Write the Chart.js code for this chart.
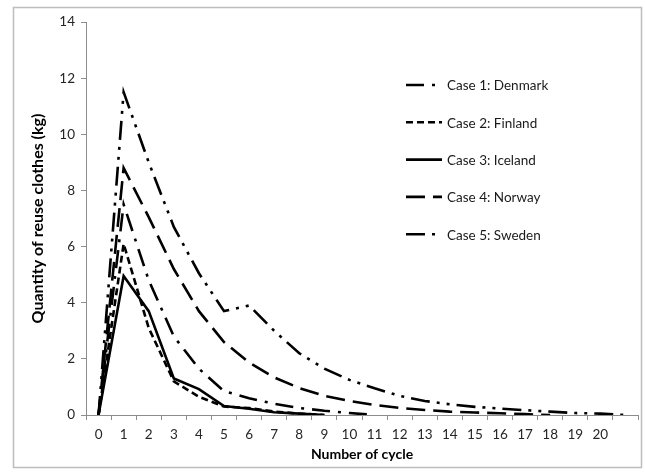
<!DOCTYPE html>
<html>
<head>
<meta charset="utf-8">
<script src="https://cdn.jsdelivr.net/npm/chart.js@4.4.0/dist/chart.umd.min.js"></script>
<style>
  html, body { margin: 0; padding: 0; background: #fff; }
</style>
</head>
<body>
<canvas id="cycleChart" width="645" height="473"></canvas>
<script>
// categories (last slot has no label)
const cycles = ['0','1','2','3','4','5','6','7','8','9','10','11','12','13','14','15','16','17','18','19','20',''];
const yTicks = [0, 2, 4, 6, 8, 10, 12, 14];

// quantity of reuse clothes (kg) per cycle
const denmark = [0, 7.5, 4.8, 2.8, 1.65, 0.85, 0.6, 0.4, 0.25, 0.15, 0.07, 0];
const finland = [0, 6.1, 3.1, 1.2, 0.65, 0.3, 0.25, 0.12, 0.05, 0];
const iceland = [0, 4.95, 3.7, 1.3, 0.92, 0.32, 0.22, 0.1, 0.05, 0];
const norway  = [0, 8.8, 7.05, 5.2, 3.7, 2.6, 1.87, 1.34, 0.96, 0.68, 0.5, 0.36, 0.25, 0.18, 0.12, 0.09, 0.06, 0.03, 0];
const sweden  = [0, 11.5, 9.0, 6.7, 5.05, 3.7, 3.9, 3.0, 2.2, 1.65, 1.25, 0.95, 0.68, 0.5, 0.38, 0.29, 0.23, 0.17, 0.12, 0.07, 0.05, 0];

const FONT = 'Lato, "Liberation Sans", sans-serif';

function caseLine(label, data, dash) {
  return {
    label: label,
    data: data,
    borderColor: '#000',
    backgroundColor: '#000',
    borderWidth: 2.6,
    borderDash: dash,
    borderCapStyle: 'butt',
    tension: 0,
    pointRadius: 0,
    fill: false
  };
}

// white page + light frame round the whole chart
const framePlugin = {
  id: 'frame',
  beforeDraw(chart) {
    const ctx = chart.ctx;
    ctx.save();
    ctx.fillStyle = '#fff';
    ctx.fillRect(0, 0, chart.width, chart.height);
    ctx.strokeStyle = '#bdbdbd';
    ctx.lineWidth = 1.5;
    ctx.strokeRect(13.5, 7.5, 628, 460);
    ctx.restore();
  }
};

// legend drawn inside the plot, on the right
const insideLegend = {
  id: 'insideLegend',
  afterDatasetsDraw(chart) {
    const ctx = chart.ctx;
    ctx.save();
    ctx.font = '13.5px ' + FONT;
    ctx.textBaseline = 'middle';
    chart.data.datasets.forEach((ds, i) => {
      const y = 85 + i * 37.3;
      ctx.beginPath();
      ctx.setLineDash(ds.borderDash || []);
      ctx.lineWidth = ds.borderWidth;
      ctx.strokeStyle = ds.borderColor;
      ctx.moveTo(406, y);
      ctx.lineTo(442, y);
      ctx.stroke();
      ctx.setLineDash([]);
      ctx.fillStyle = '#1a1a1a';
      ctx.fillText(ds.label, 447, y + 1);
    });
    ctx.restore();
  }
};

const cycleChart = new Chart(document.getElementById('cycleChart'), {
  type: 'line',
  data: {
    labels: cycles,
    datasets: [
      caseLine('Case 1: Denmark', denmark, [18, 8, 3, 8]),
      caseLine('Case 2: Finland', finland, [7, 4]),
      caseLine('Case 3: Iceland', iceland, []),
      caseLine('Case 4: Norway',  norway,  [19, 8]),
      caseLine('Case 5: Sweden',  sweden,  [19, 7, 3, 7, 3, 7])
    ]
  },
  options: {
    responsive: false,
    animation: false,
    layout: { padding: { left: 14, right: 7, top: 22, bottom: 6 } },
    plugins: {
      legend: { display: false },
      tooltip: { enabled: false }
    },
    scales: {
      x: {
        type: 'category',
        offset: true,
        grid: { display: true, drawOnChartArea: false, drawTicks: true, tickLength: 5, color: '#8c8c8c', offset: true },
        border: { color: '#8c8c8c', width: 1 },
        ticks: { color: '#262626', font: { family: FONT, size: 13.5 }, padding: 7, autoSkip: false, maxRotation: 0 },
        title: { display: true, text: 'Number of cycle', color: '#000', font: { family: FONT, size: 14, weight: 'bold' }, padding: { top: 5 } },
        afterFit(scale) { scale.height = 52; }
      },
      y: {
        min: 0,
        max: 14,
        afterBuildTicks(scale) { scale.ticks = yTicks.map(v => ({ value: v })); },
        grid: { display: true, drawOnChartArea: false, drawTicks: true, tickLength: 5, color: '#8c8c8c' },
        border: { color: '#8c8c8c', width: 1 },
        ticks: { color: '#262626', font: { family: FONT, size: 13.5 }, padding: 6 },
        title: { display: true, text: 'Quantity of reuse clothes (kg)', color: '#000', font: { family: FONT, size: 16, weight: 'bold' }, padding: { top: 14, bottom: 0 } },
        afterFit(scale) { scale.width = 72; }
      }
    }
  },
  plugins: [framePlugin, insideLegend]
});
</script>
</body>
</html>
